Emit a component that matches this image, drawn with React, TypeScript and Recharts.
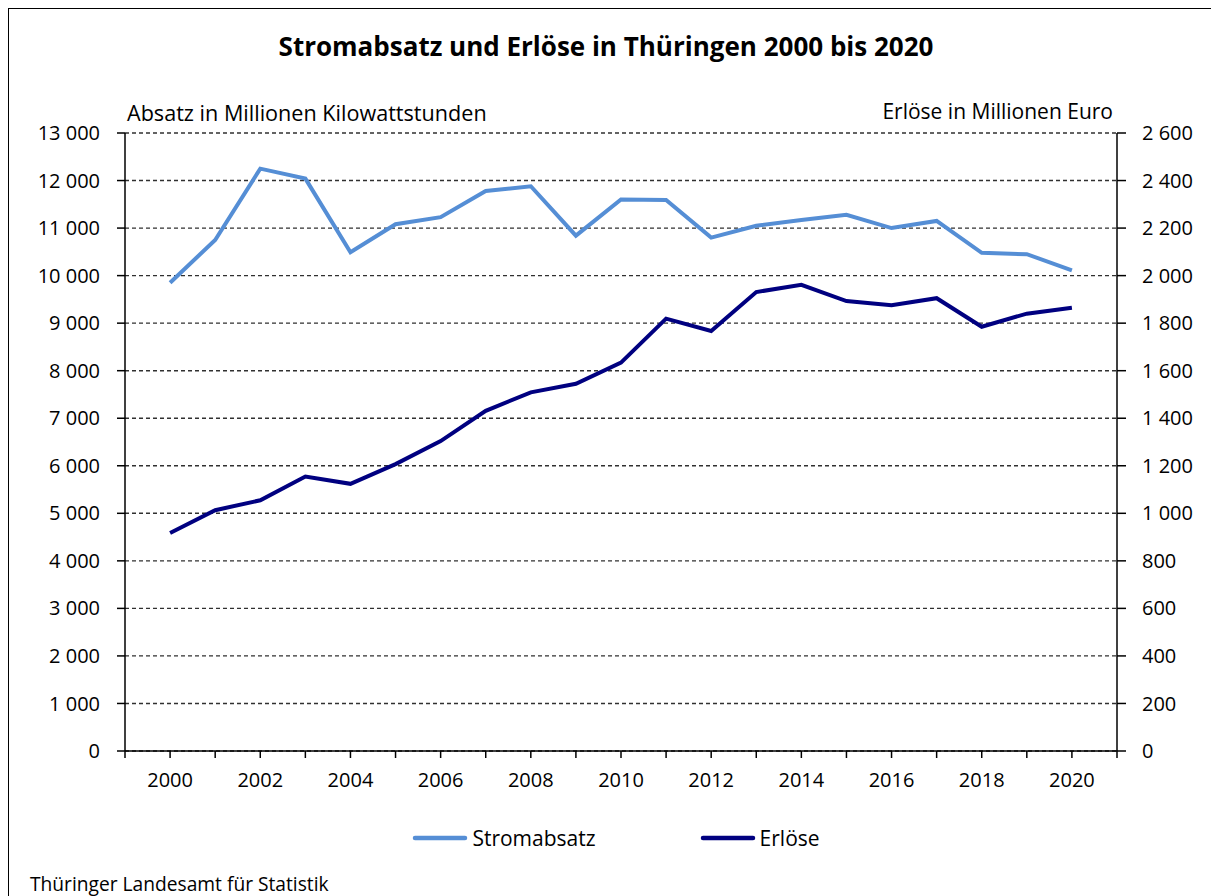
import React from 'react';
import {
  LineChart,
  Line,
  XAxis,
  YAxis,
  CartesianGrid,
  Legend,
} from 'recharts';

const years = [
  2000, 2001, 2002, 2003, 2004, 2005, 2006, 2007, 2008, 2009, 2010,
  2011, 2012, 2013, 2014, 2015, 2016, 2017, 2018, 2019, 2020,
];

// Absatz in Millionen kWh
const stromabsatz = [
  9850, 10750, 12250, 12040, 10490, 11080, 11230, 11780, 11880, 10840, 11600,
  11590, 10800, 11050, 11170, 11280, 11000, 11150, 10480, 10450, 10110,
];

// Erlöse in Millionen Euro
const erloese = [
  917, 1013, 1055, 1155, 1124, 1207, 1304, 1431, 1509, 1545, 1634,
  1819, 1767, 1931, 1961, 1893, 1875, 1905, 1785, 1840, 1865,
];

const seriesNames = ['Stromabsatz', 'Erlöse'];

const xTicks = [1999, ...years, 2021];
const leftTicks = [0, 1000, 2000, 3000, 4000, 5000, 6000, 7000, 8000, 9000, 10000, 11000, 12000, 13000];
const rightTicks = [0, 200, 400, 600, 800, 1000, 1200, 1400, 1600, 1800, 2000, 2200, 2400, 2600];

const data = years.map((year, i) => ({
  year,
  Stromabsatz: stromabsatz[i],
  Erlöse: erloese[i],
}));

const font = '"Open Sans", sans-serif';

const fmt = (v: number) => String(v).replace(/\B(?=(\d{3})+(?!\d))/g, ' ');

const yearLabel = (v: number) => (v % 2 === 0 && v >= 2000 && v <= 2020 ? String(v) : '');

function LegendContent(props: any) {
  const items = [...(props.payload || [])].sort(
    (a: any, b: any) => seriesNames.indexOf(a.value) - seriesNames.indexOf(b.value)
  );
  return (
    <div style={{ display: 'flex', justifyContent: 'center', gap: 104, fontFamily: font, fontSize: 21 }}>
      {items.map((item: any) => (
        <div key={item.value} style={{ display: 'flex', alignItems: 'center' }}>
          <svg width={56} height={8} style={{ marginRight: 4 }}>
            <line x1={3} y1={4} x2={53} y2={4} stroke={item.color} strokeWidth={4.5} strokeLinecap='round' />
          </svg>
          <span style={{ color: '#000' }}>{item.value}</span>
        </div>
      ))}
    </div>
  );
}

export default function App() {
  return (
    <div
      style={{
        position: 'relative',
        width: 1240,
        height: 920,
        border: '1.5px solid #000',
        boxSizing: 'border-box',
        fontFamily: font,
        color: '#000',
      }}
    >
      <div
        style={{
          position: 'absolute',
          left: 0,
          top: 24,
          width: 1194,
          textAlign: 'center',
          fontSize: 26,
          fontWeight: 700,
          lineHeight: 1,
        }}
      >
        Stromabsatz und Erlöse in Thüringen 2000 bis 2020
      </div>
      <div style={{ position: 'absolute', left: 118, top: 93, fontSize: 21.6, lineHeight: 1 }}>
        Absatz in Millionen Kilowattstunden
      </div>
      <div style={{ position: 'absolute', left: 604, width: 500, top: 92, textAlign: 'right', fontSize: 21, lineHeight: 1 }}>
        Erlöse in Millionen Euro
      </div>
      <div style={{ position: 'absolute', left: 21, top: 865, fontSize: 19.2, lineHeight: 1 }}>
        Thüringer Landesamt für Statistik
      </div>
      <div style={{ position: 'absolute', left: 0, top: 0 }}>
        <LineChart
          width={1210}
          height={880}
          data={data}
          margin={{ top: 124, right: 0, left: 0, bottom: 98 }}
          style={{ fontFamily: font }}
        >
          <CartesianGrid yAxisId='left' vertical={false} stroke='#303030' strokeDasharray='4 3' strokeWidth={1.4} />
          <XAxis
            dataKey='year'
            type='number'
            domain={[1999, 2021]}
            ticks={xTicks}
            interval={0}
            tickFormatter={yearLabel}
            height={40}
            tickSize={7}
            tickMargin={15}
            stroke='#000'
            strokeWidth={1.5}
            tick={{ fill: '#000', fontSize: 20 }}
          />
          <YAxis
            yAxisId='left'
            orientation='left'
            domain={[0, 13000]}
            ticks={leftTicks}
            interval={0}
            tickFormatter={fmt}
            width={116}
            tickSize={8}
            tickMargin={17}
            stroke='#000'
            strokeWidth={1.5}
            tick={{ fill: '#000', fontSize: 20 }}
          />
          <YAxis
            yAxisId='right'
            orientation='right'
            domain={[0, 2600]}
            ticks={rightTicks}
            interval={0}
            tickFormatter={fmt}
            width={102}
            tickSize={9}
            tickMargin={16}
            stroke='#000'
            strokeWidth={1.5}
            tick={{ fill: '#000', fontSize: 20, textAnchor: 'start' }}
          />
          <Line
            yAxisId='left'
            type='linear'
            dataKey='Stromabsatz'
            stroke='#558ED5'
            strokeWidth={4}
            dot={false}
            isAnimationActive={false}
          />
          <Line
            yAxisId='right'
            type='linear'
            dataKey='Erlöse'
            stroke='#000080'
            strokeWidth={4}
            dot={false}
            isAnimationActive={false}
          />
          <Legend
            layout='horizontal'
            verticalAlign='middle'
            align='center'
            content={LegendContent}
            wrapperStyle={{ top: 815, left: 0, width: 1214 }}
          />
        </LineChart>
      </div>
    </div>
  );
}
